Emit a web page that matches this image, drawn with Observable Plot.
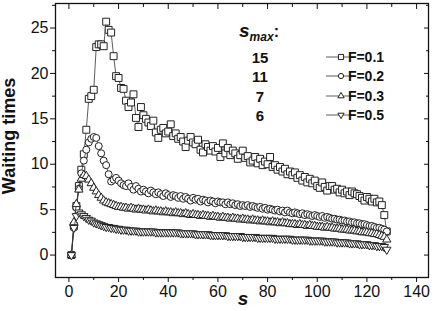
<!DOCTYPE html>
<html><head><meta charset="utf-8">
<script src="https://cdn.jsdelivr.net/npm/d3@7"></script>
<script src="https://cdn.jsdelivr.net/npm/@observablehq/plot@0.6"></script>
<style>body{margin:0;background:#fff}svg{display:block}</style>
</head><body><div id="chart"></div>
<script>
const sValues = d3.range(1, 129);
const waitF01 = [0,3.2,5.4,7.6,9.4,11.1,13.8,17.2,17.5,18.2,
22.9,23.2,23.2,23.0,25.7,24.8,24.5,21.9,19.7,19.5,
18.4,18.3,17.0,16.3,16.8,17.7,15.1,14.1,16.3,15.4,
15.0,14.6,14.2,14.8,13.5,12.9,13.8,14.0,13.4,13.6,
14.4,13.1,13.4,12.8,13.0,12.5,11.9,12.6,13.0,12.4,
12.2,12.7,11.6,11.3,12.2,11.9,11.5,12.0,11.4,11.8,
10.8,12.3,11.2,11.8,11.0,11.5,11.2,10.6,11.0,11.5,
10.7,10.9,10.2,10.4,10.8,10.1,10.6,9.9,10.3,10.0,
10.8,9.7,9.9,9.4,9.7,9.2,9.5,8.9,9.2,8.8,
9.1,8.5,8.8,8.2,8.6,8.0,8.4,7.9,8.2,7.6,
7.4,8.0,7.5,7.1,7.6,7.6,7.2,7.3,6.9,7.2,
6.8,7.0,6.6,7.0,6.8,6.7,6.5,6.3,6.0,6.4,
6.2,5.9,6.2,5.8,5.9,5.5,4.4,2.6];
const waitF02 = [0,3.0,5.2,7.3,9.0,10.4,11.6,12.4,12.8,13.0,
12.9,12.0,11.2,10.4,9.9,8.9,8.1,8.3,8.5,8.2,
7.9,7.7,7.6,7.9,7.5,7.2,7.6,7.3,7.0,7.2,
7.0,6.8,7.1,6.9,6.7,6.9,6.7,6.5,6.8,6.6,
6.4,6.6,6.5,6.3,6.5,6.2,6.4,6.2,6.0,6.3,
6.1,6.2,5.9,6.1,6.0,5.8,6.0,5.9,5.7,5.9,
5.8,5.8,5.6,5.8,5.6,5.7,5.5,5.6,5.4,5.5,
5.4,5.5,5.3,5.4,5.3,5.2,5.3,5.1,5.2,5.0,
5.1,5.0,4.9,5.0,4.8,4.9,4.7,4.9,4.7,4.6,
4.7,4.6,4.5,4.6,4.4,4.5,4.4,4.3,4.4,4.3,
4.2,4.3,4.1,4.2,4.1,4.0,4.0,3.9,3.9,3.8,
3.8,3.7,3.7,3.6,3.6,3.5,3.5,3.4,3.4,3.3,
3.2,3.2,3.1,3.0,3.0,2.9,2.8,2.6];
const waitF03 = [0,3.6,5.6,7.2,8.4,8.8,8.7,8.3,7.9,7.4,
7.0,6.6,6.3,6.0,5.8,5.7,5.6,5.5,5.4,5.3,
5.3,5.2,5.2,5.1,5.2,5.1,5.0,5.1,5.0,5.0,
4.9,5.0,4.9,4.8,4.9,4.8,4.8,4.7,4.8,4.7,
4.7,4.6,4.7,4.6,4.6,4.5,4.6,4.5,4.4,4.5,
4.4,4.4,4.3,4.4,4.3,4.3,4.2,4.3,4.2,4.2,
4.1,4.2,4.1,4.1,4.0,4.1,4.0,4.0,3.9,4.0,
3.9,3.9,3.8,3.9,3.8,3.8,3.7,3.8,3.7,3.7,
3.6,3.7,3.6,3.6,3.5,3.6,3.5,3.5,3.4,3.4,
3.4,3.3,3.4,3.3,3.3,3.2,3.3,3.2,3.2,3.1,
3.1,3.1,3.0,3.1,3.0,3.0,2.9,2.9,2.9,2.8,
2.8,2.8,2.7,2.7,2.7,2.6,2.6,2.5,2.5,2.5,
2.4,2.4,2.3,2.3,2.2,2.1,2.0,1.7];
const waitF05 = [0,3.0,4.3,4.7,4.5,4.3,4.1,3.9,3.8,3.6,
3.5,3.4,3.3,3.2,3.1,3.1,3.0,3.0,2.9,2.9,
2.8,2.8,2.8,2.7,2.7,2.7,2.7,2.6,2.6,2.6,
2.6,2.6,2.6,2.6,2.5,2.5,2.5,2.5,2.5,2.5,
2.5,2.5,2.5,2.5,2.4,2.4,2.4,2.4,2.4,2.4,
2.3,2.3,2.3,2.3,2.3,2.3,2.2,2.2,2.2,2.2,
2.2,2.2,2.2,2.1,2.1,2.1,2.1,2.1,2.1,2.0,
2.0,2.0,2.0,2.0,2.0,1.9,1.9,1.9,1.9,1.9,
1.9,1.9,1.8,1.8,1.8,1.8,1.8,1.8,1.8,1.7,
1.7,1.7,1.7,1.7,1.7,1.7,1.6,1.6,1.6,1.6,
1.6,1.6,1.5,1.5,1.5,1.5,1.5,1.4,1.4,1.4,
1.4,1.4,1.3,1.3,1.3,1.3,1.2,1.2,1.2,1.2,
1.1,1.1,1.1,1.0,1.0,1.0,0.9,0.6];
const seriesLabels = ["F=0.1", "F=0.2", "F=0.3", "F=0.5"];
const smaxLabels = ["15", "11", "7", "6"];
const xTicks = [0, 20, 40, 60, 80, 100, 120, 140];
const xMinorTicks = [10, 30, 50, 70, 90, 110, 130];
const yTicks = [0, 5, 10, 15, 20, 25];
const yMinorTicks = [2.5, 7.5, 12.5, 17.5, 22.5, 27.5];

const triangleDown = {
  draw(context, size) {
    const y = -Math.sqrt(size / (Math.sqrt(3) * 3));
    context.moveTo(0, -2 * y);
    context.lineTo(-Math.sqrt(3) * y, y);
    context.lineTo(Math.sqrt(3) * y, y);
    context.closePath();
  }
};
const symbols = ["square", "circle", "triangle", triangleDown];
const radii = [3.9, 3.5, 3.1, 3.1];
const allSeries = [waitF01, waitF02, waitF03, waitF05];
const rows = allSeries.map((vals, i) => vals.map((v, j) => ({s: sValues[j], w: v, F: seriesLabels[i]})));

const font = "Liberation Sans, Arial, sans-serif";
const marks = [];
rows.forEach((data, i) => {
  marks.push(Plot.line(data, {x: "s", y: "w", stroke: "#333", strokeWidth: 0.8}));
  marks.push(Plot.dot(data, {x: "s", y: "w", symbol: symbols[i], r: radii[i], fill: "white", stroke: "#222", strokeWidth: 1}));
});
marks.push(
  Plot.axisX({anchor: "bottom", ticks: xTicks, tickSize: 5, tickPadding: 3, fontSize: 16, label: null}),
  Plot.axisX({anchor: "bottom", ticks: xMinorTicks, tickSize: 3, text: null, label: null}),
  Plot.axisX({anchor: "top", ticks: xTicks, tickSize: 5, dy: 5, text: null, label: null}),
  Plot.axisX({anchor: "top", ticks: xMinorTicks, tickSize: 3, dy: 3, text: null, label: null}),
  Plot.axisY({anchor: "left", ticks: yTicks, tickSize: 5, tickPadding: 2, fontSize: 16, label: null}),
  Plot.axisY({anchor: "left", ticks: yMinorTicks, tickSize: 3, text: null, label: null}),
  Plot.axisY({anchor: "right", ticks: yTicks, tickSize: 5, dx: -5, text: null, label: null}),
  Plot.axisY({anchor: "right", ticks: yMinorTicks, tickSize: 3, dx: -3, text: null, label: null}),
  Plot.frame({stroke: "#111", strokeWidth: 1.3})
);

const plot = Plot.plot({
  width: 447, height: 311,
  marginLeft: 55, marginRight: 19, marginTop: 3, marginBottom: 34,
  style: {fontFamily: font, color: "#111", background: "white"},
  x: {domain: [-5.4, 144.8]},
  y: {domain: [-2.47, 27.7]},
  marks
});
document.getElementById("chart").appendChild(plot);

const svg = d3.select(plot);
// axis titles
svg.append("text").attr("transform", "translate(15,136) rotate(-90)")
  .attr("text-anchor", "middle").attr("font-family", font).attr("font-size", 18).attr("font-weight", "bold")
  .attr("fill", "#111").text("Waiting times");
svg.append("text").attr("x", 243).attr("y", 305)
  .attr("text-anchor", "middle").attr("font-family", font).attr("font-size", 19).attr("font-weight", "bold")
  .attr("font-style", "italic").attr("fill", "#111").text("s");

// legend
const lg = svg.append("g").attr("font-family", font).attr("fill", "#111");
const title = lg.append("text").attr("x", 259).attr("y", 37).attr("font-weight", "bold");
title.append("tspan").attr("font-size", 19).attr("font-style", "italic").text("s");
title.append("tspan").attr("font-size", 12).attr("font-style", "italic").attr("dy", 4).text("max");
title.append("tspan").attr("font-size", 16).attr("dy", -4).text(":");
const rowY = [57, 76, 96, 115];
const symbolTypes = [d3.symbolSquare, d3.symbolCircle, d3.symbolTriangle, triangleDown];
smaxLabels.forEach((t, i) => {
  lg.append("text").attr("x", 260).attr("y", rowY[i] + 5.5).attr("font-size", 15).attr("font-weight", "bold").text(t);
  lg.append("line").attr("x1", 326).attr("x2", 356).attr("y1", rowY[i]).attr("y2", rowY[i])
    .attr("stroke", "#333").attr("stroke-width", 0.8);
  lg.append("path").attr("transform", `translate(341,${rowY[i]})`)
    .attr("d", d3.symbol(symbolTypes[i], Math.PI * (radii[i] * 0.75) ** 2)())
    .attr("fill", "white").attr("stroke", "#222").attr("stroke-width", 1);
  lg.append("text").attr("x", 366).attr("y", rowY[i] + 5).attr("font-size", 14).attr("font-weight", "bold").text(seriesLabels[i]);
});
</script>
</body></html>
